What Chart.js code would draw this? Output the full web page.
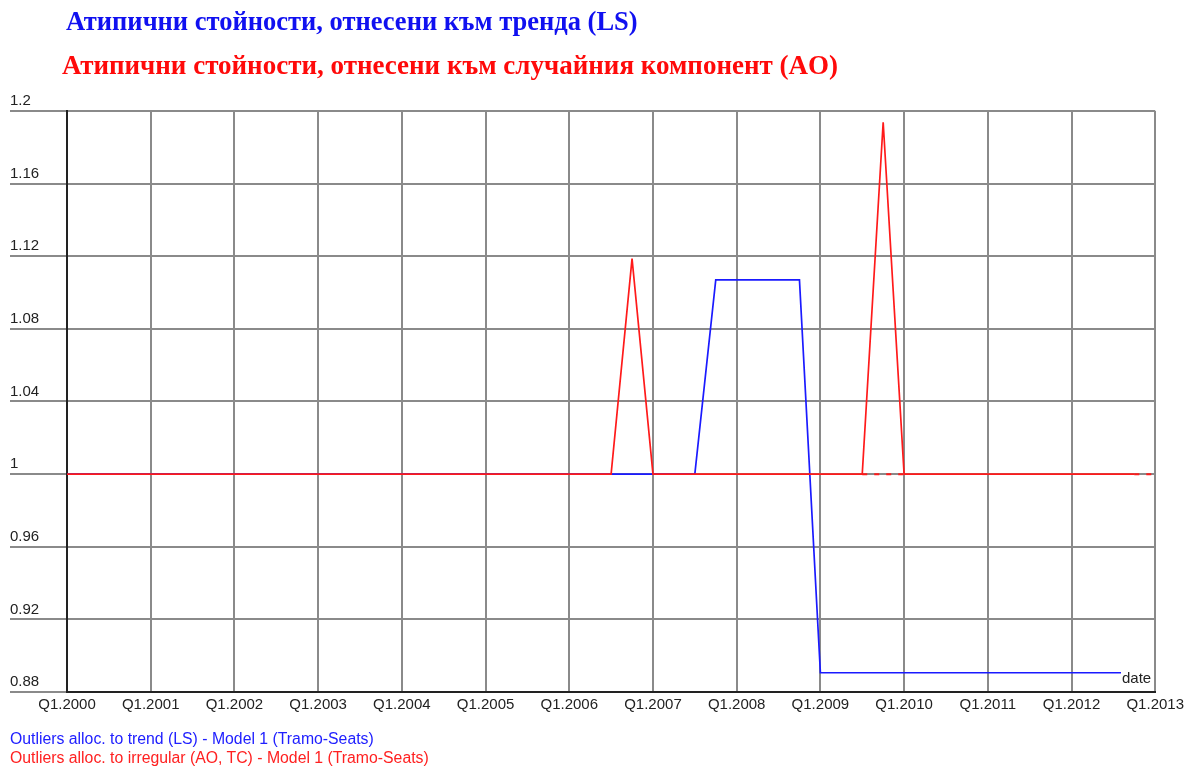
<!DOCTYPE html>
<html>
<head>
<meta charset="utf-8">
<script src="https://cdn.jsdelivr.net/npm/chart.js@4.4.0/dist/chart.umd.min.js"></script>
<style>
html, body { margin: 0; padding: 0; background: #fff; }
#wrap { position: relative; width: 1188px; height: 767px; }
#chart { position: absolute; left: 0; top: 0; }
.title { position: absolute; font-family: "Liberation Serif", "Times New Roman", serif; font-weight: bold; font-size: 26.5px; white-space: nowrap; line-height: 1; }
.legend { position: absolute; left: 10px; font-family: "Liberation Sans", Arial, sans-serif; font-size: 15.8px; white-space: nowrap; line-height: 1; }
#dateLbl { position: absolute; left: 1121px; top: 670px; font-family: "Liberation Sans", Arial, sans-serif; font-size: 15px; line-height: 16px; background: #fff; color: #222; padding: 0 1px; }
</style>
</head>
<body>
<div id="wrap">
  <canvas id="chart" width="1188" height="767"></canvas>
  <div class="title" style="left:66px; top:8px; color:#1010f0;">Атипични стойности, отнесени към тренда (LS)</div>
  <div class="title" style="left:62px; top:52px; color:#ff0a0a; font-size:27px;">Атипични стойности, отнесени към случайния компонент (AO)</div>
  <div id="dateLbl">date</div>
  <div class="legend" style="top:731px; color:#2020ff;">Outliers alloc. to trend (LS) - Model 1 (Tramo-Seats)</div>
  <div class="legend" style="top:750px; color:#ff2020;">Outliers alloc. to irregular (AO, TC) - Model 1 (Tramo-Seats)</div>
</div>
<script>
// quarters Q1.2000 .. Q1.2013
const quarters = [];
for (let y = 2000; y <= 2013; y++) {
    for (let q = 1; q <= 4; q++) {
        if (y === 2013 && q > 1) break;
        quarters.push('Q' + q + '.' + y);
    }
}

const yTicks = [0.88, 0.92, 0.96, 1, 1.04, 1.08, 1.12, 1.16, 1.2];

// Outliers allocated to trend (LS)
const trendLS = [
    1, 1, 1, 1, 1, 1, 1, 1, 1, 1, 1, 1, 1, 1, 1, 1,
    1, 1, 1, 1, 1, 1, 1, 1, 1, 1, 1, 1, 1, 1, 1,
    1.107, 1.107, 1.107, 1.107, 1.107,
    0.8906, 0.8906, 0.8906, 0.8906, 0.8906, 0.8906, 0.8906, 0.8906,
    0.8906, 0.8906, 0.8906, 0.8906, 0.8906, 0.8906, 0.8906, 0.8906
];

// Outliers allocated to irregular (AO, TC)
const irregularAO = [
    1, 1, 1, 1, 1, 1, 1, 1, 1, 1, 1, 1, 1, 1, 1, 1,
    1, 1, 1, 1, 1, 1, 1, 1, 1, 1, 1,
    1.1187,
    1, 1, 1, 1, 1, 1, 1, 1, 1, 1, 1,
    1.1938,
    1, 1, 1, 1, 1, 1, 1, 1, 1, 1, 1, 1
];

// dashed baseline pieces of the irregular series
const irregularDashed = [
    null, null, null, null, null, null, null, null, null, null, null, null, null, null, null, null,
    null, null, null, null, null, null, null, null, null, null, null, null, null, null, null, null,
    null, null, null, null, null, null, 1, 1, 1, null, null, null, null, null, null, null,
    null, null, null, 1, 1
];

const GRID = '#8a8a8a';

const ctx = document.getElementById('chart').getContext('2d');
const chart = new Chart(ctx, {
    type: 'line',
    data: {
        labels: quarters,
        datasets: [
            {
                label: 'Outliers alloc. to irregular (AO, TC) - Model 1 (Tramo-Seats)',
                data: irregularAO,
                borderColor: '#ff1a1a',
                borderWidth: 1.7,
                pointRadius: 0,
                tension: 0,
                order: 1
            },
            {
                label: 'dashed',
                data: irregularDashed,
                borderColor: '#ff1a1a',
                borderWidth: 2,
                borderDash: [5, 7],
                pointRadius: 0,
                spanGaps: false,
                order: 2
            },
            {
                label: 'Outliers alloc. to trend (LS) - Model 1 (Tramo-Seats)',
                data: trendLS,
                borderColor: '#1a1aff',
                borderWidth: 1.7,
                pointRadius: 0,
                tension: 0,
                order: 3
            }
        ]
    },
    options: {
        responsive: false,
        animation: false,
        layout: { padding: { left: 10, right: 32, top: 111, bottom: 0 } },
        plugins: {
            legend: { display: false },
            tooltip: { enabled: false },
            title: { display: false }
        },
        scales: {
            x: {
                type: 'category',
                offset: false,
                afterFit: s => { s.height = 75; },
                grid: {
                    color: c => (c.index % 4 === 0 && c.index !== 0) ? GRID : 'rgba(0,0,0,0)',
                    lineWidth: 2,
                    drawTicks: false
                },
                border: { color: '#222', width: 2 },
                ticks: {
                    autoSkip: false,
                    maxRotation: 0,
                    padding: 4,
                    color: '#222',
                    font: { family: '"Liberation Sans", Arial, sans-serif', size: 15 },
                    callback: function (v, i) {
                        const l = quarters[i];
                        return l.startsWith('Q1') ? l : '';
                    }
                }
            },
            y: {
                min: 0.88,
                max: 1.2,
                afterFit: s => { s.width = 57; },
                afterBuildTicks: s => { s.ticks = yTicks.map(v => ({ value: v })); },
                grid: {
                    color: c => (c.tick && c.tick.value === 0.88) ? 'rgba(0,0,0,0)' : GRID,
                    tickColor: GRID,
                    lineWidth: 2,
                    tickLength: 57
                },
                border: { color: '#222', width: 2 },
                ticks: {
                    crossAlign: 'far',
                    labelOffset: -10,
                    padding: 0,
                    color: '#222',
                    font: { family: '"Liberation Sans", Arial, sans-serif', size: 15 },
                    callback: v => String(+v.toFixed(2))
                }
            }
        }
    }
});
</script>
</body>
</html>
